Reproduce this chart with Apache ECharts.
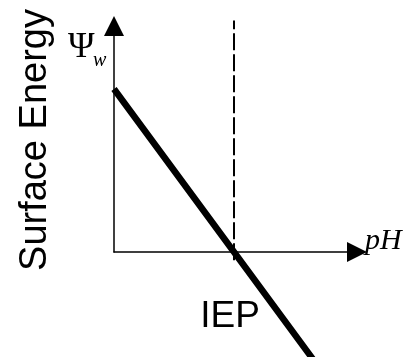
<!DOCTYPE html>
<html>
<head>
	<meta charset="UTF-8">
	<title>Surface Energy vs pH</title>
	<style type="text/css">
		html, body { margin: 0; padding: 0; background: #fff; }
		#chart { width: 407px; height: 357px; }
	</style>
	<script src="https://cdn.jsdelivr.net/npm/echarts/dist/echarts.min.js"></script>
</head>
<body>
	<div id="chart"></div>

<script type="text/javascript">
// data (pH units, surface energy units)
var energyLine = [[0, 1], [1, 0], [1.7, -0.7]];
var iepLine = [[1, -0.05], [1, 1.42]];
var xRange = [0, 2.025];
var yRange = [0, 1.3865];

var yTitle = 'Surface Energy';
var psiText = 'Ψ';
var psiSub = 'w';
var xTitle = 'pH';
var iepText = 'IEP';

var chart = echarts.init(document.getElementById('chart'));

var axisLineStyle = {
	show: true,
	lineStyle: { color: '#000', width: 1.5 },
	symbol: ['none', 'triangle'],
	symbolSize: [20, 20]
};

var option = {
	animation: false,
	grid: { left: 114, right: 50, top: 26, bottom: 105 },
	xAxis: {
		type: 'value',
		min: xRange[0],
		max: xRange[1],
		axisLine: axisLineStyle,
		axisTick: { show: false },
		axisLabel: { show: false },
		splitLine: { show: false }
	},
	yAxis: {
		type: 'value',
		min: yRange[0],
		max: yRange[1],
		axisLine: axisLineStyle,
		axisTick: { show: false },
		axisLabel: { show: false },
		splitLine: { show: false }
	},
	series: [
		{
			type: 'line',
			data: iepLine,
			clip: false,
			symbol: 'none',
			lineStyle: { color: '#000', width: 2, type: [17, 4] },
			z: 1
		},
		{
			type: 'line',
			data: energyLine,
			clip: false,
			symbol: 'none',
			lineStyle: { color: '#000', width: 6.5, cap: 'butt' },
			z: 2
		}
	],
	graphic: [
		{
			type: 'text', x: 36, y: 140, rotation: Math.PI / 2,
			style: { text: yTitle, font: '38px "Liberation Sans", Arial, sans-serif', fill: '#000', align: 'center', verticalAlign: 'middle' }
		},
		{
			type: 'text', x: 68, y: 48,
			style: { text: psiText, font: '36px "Liberation Serif", "Times New Roman", serif', fill: '#000', align: 'left', verticalAlign: 'middle' }
		},
		{
			type: 'text', x: 93, y: 61,
			style: { text: psiSub, font: 'italic 20px "Liberation Serif", "Times New Roman", serif', fill: '#000', align: 'left', verticalAlign: 'middle' }
		},
		{
			type: 'text', x: 365, y: 241,
			style: { text: xTitle, font: 'italic 30px "Liberation Serif", "Times New Roman", serif', fill: '#000', align: 'left', verticalAlign: 'middle' }
		},
		{
			type: 'text', x: 230, y: 317,
			style: { text: iepText, font: '37px "Liberation Sans", Arial, sans-serif', fill: '#000', align: 'center', verticalAlign: 'middle' }
		}
	]
};
chart.setOption(option);
</script>
</body>
</html>
